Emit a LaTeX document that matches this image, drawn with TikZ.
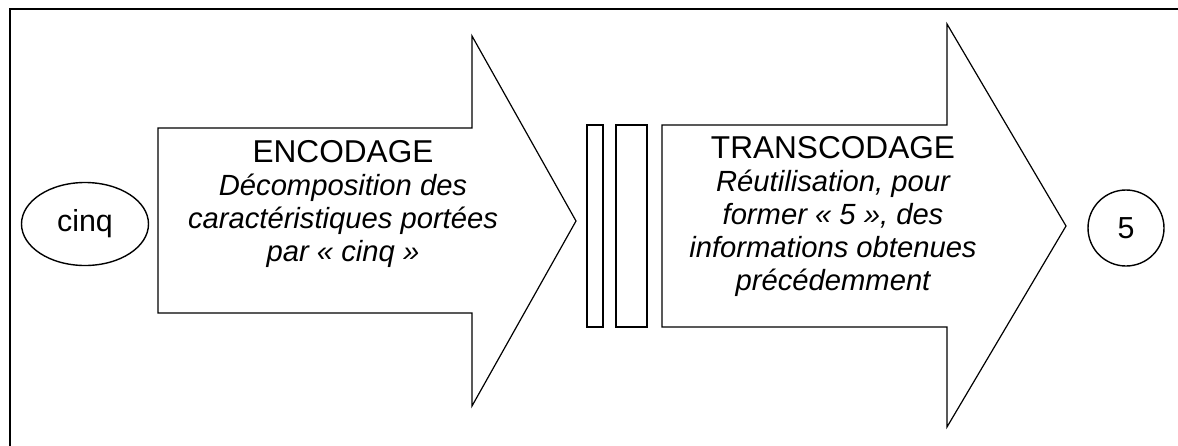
\documentclass[tikz,border=0pt]{standalone}
\usepackage{fontspec}
\setmainfont{Liberation Sans}
\usetikzlibrary{shapes.geometric}

\newcommand{\gros}{\fontsize{15.8}{16.5}\selectfont\upshape}

\begin{document}
\begin{tikzpicture}[x=0.5pt,y=-0.5pt,
  contour/.style={draw=black,line width=0.6pt},
  barre/.style={draw=black,line width=1pt},
  legende/.style={align=center,inner sep=0pt,font=\fontsize{14.6}{16.5}\selectfont\itshape}]
\useasboundingbox (0,0) rectangle (1178,445);
\draw[line width=1.3pt] (10,470) -- (10,9) -- (1190,9);

% les deux grosses fleches
\draw[contour] (158,128) -- (472,128) -- (472,36) -- (576,221) -- (472,406) -- (472,313) -- (158,313) -- cycle;
\draw[contour] (662,125) -- (947,125) -- (947,24) -- (1066,226) -- (947,427) -- (947,327) -- (662,327) -- cycle;

% les barres entre les deux
\draw[barre] (587,125) rectangle (603,327);
\draw[barre] (616,125) rectangle (647,327);

\node[draw,ellipse,line width=0.7pt,minimum width=63.5pt,minimum height=41.5pt,inner sep=0pt,font=\fontsize{15.2}{18}\selectfont] (mot) at (85,224) {cinq};
\node[draw,circle,line width=0.7pt,minimum size=38pt,inner sep=0pt,font=\fontsize{15.2}{18}\selectfont] (chiffre) at (1126,228) {5};

\node[legende] (encodage) at (343,204) {{\gros ENCODAGE}\\Décomposition des\\caractéristiques portées\\par « cinq »};
\node[legende] (transcodage) at (833,216) {{\gros TRANSCODAGE}\\Réutilisation, pour\\former « 5 », des\\informations obtenues\\précédemment};
\end{tikzpicture}
\end{document}
